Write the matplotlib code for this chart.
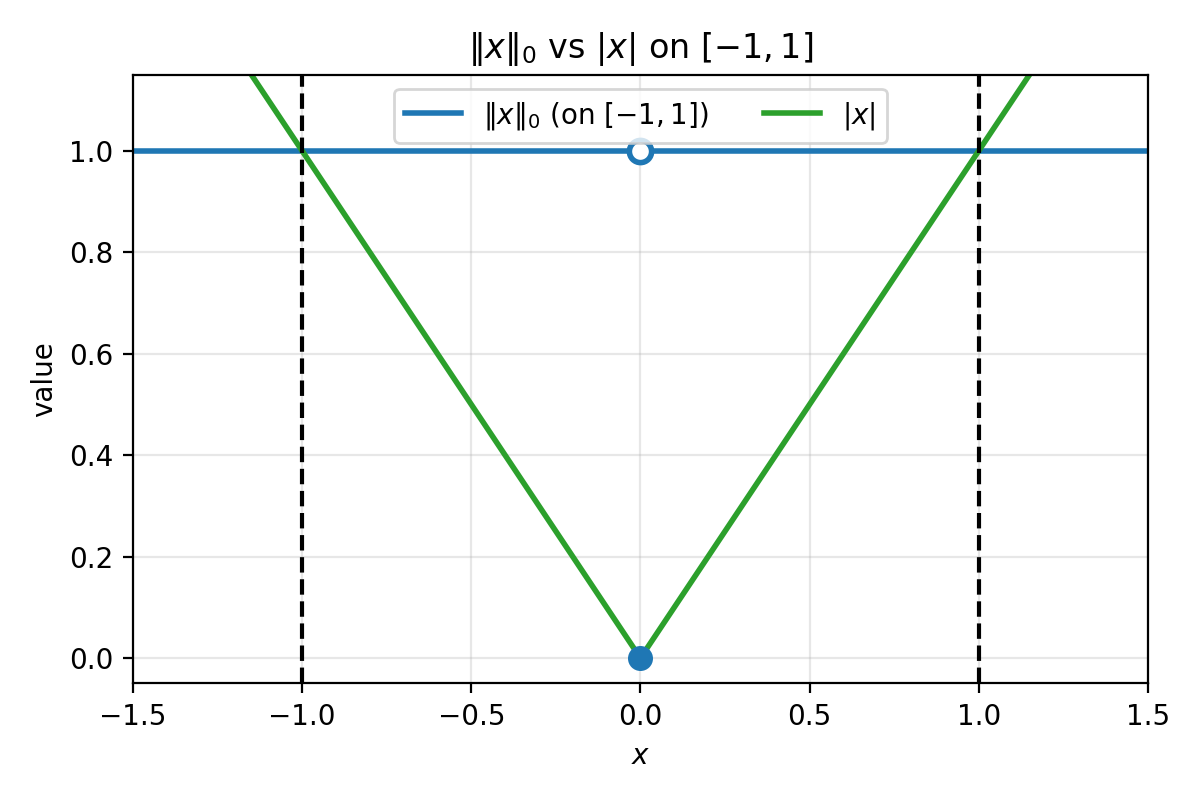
import numpy as np
import matplotlib
matplotlib.use("Agg")
import matplotlib.pyplot as plt

# data
x_range = [-1.5, 1.5]
l0_level = [1.0, 1.0]
abs_x = [-1.5, 0.0, 1.5]
abs_y = [1.5, 0.0, 1.5]
hole_pt = (0.0, 1.0)
fill_pt = (0.0, 0.0)
vlines = [-1.0, 1.0]

fig, ax = plt.subplots(figsize=(6, 4), dpi=200)
ax.plot(x_range, l0_level, color="#1f77b4", lw=2, label=r"$\|x\|_0$ (on $[-1,1]$)")
ax.plot(abs_x, abs_y, color="#2ca02c", lw=2, label=r"$|x|$")
ax.plot([hole_pt[0]], [hole_pt[1]], "o", ms=8, mfc="white", mec="#1f77b4", mew=2, zorder=5)
ax.plot([fill_pt[0]], [fill_pt[1]], "o", ms=8, color="#1f77b4", zorder=5)
for v in vlines:
    ax.axvline(v, color="black", ls="--", lw=1.5)
ax.set_xlim(-1.5, 1.5)
ax.set_ylim(-0.05, 1.15)
ax.grid(True, alpha=0.3)
ax.set_xlabel(r"$x$")
ax.set_ylabel("value")
ax.set_title(r"$\|x\|_0$ vs $|x|$ on $[-1,1]$")
ax.legend(loc="upper center", ncol=2)
fig.tight_layout()
fig.savefig("out.png")
